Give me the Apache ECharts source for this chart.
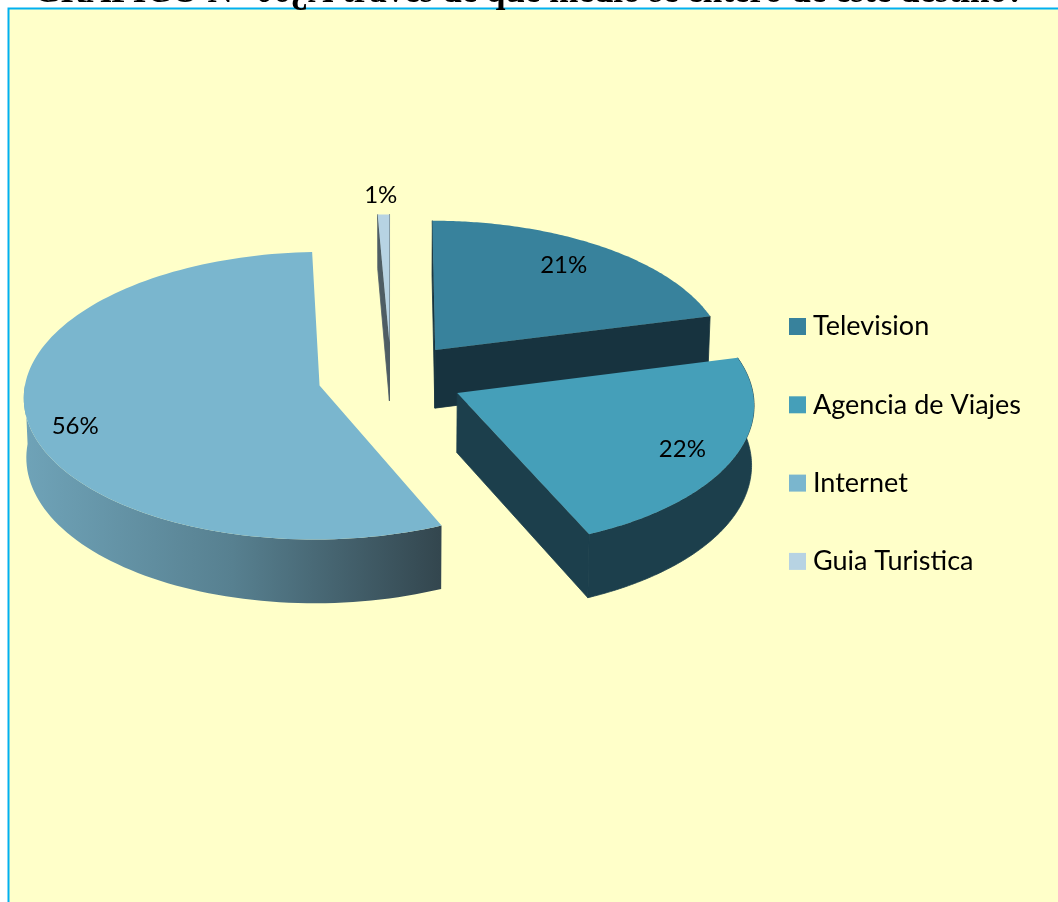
<!DOCTYPE html>
<html><head><meta charset="utf-8">
<style>html,body{margin:0;padding:0;background:#fff;overflow:hidden}#c{width:1058px;height:902px}</style>
<script src="https://cdn.jsdelivr.net/npm/echarts@6/dist/echarts.min.js"></script></head>
<body><div id="c"></div>
<script>
const titleText = 'GRÁFICO N° 06¿A través de qué medio se enteró de este destino?';
const categories = ['Television', 'Agencia de Viajes', 'Internet', 'Guia Turistica'];
const shares = [21, 22.4, 55.9, 0.7];
const percentLabels = ['21%', '22%', '56%', '1%'];

// Styling and projection settings (not data)
const topColors = ['#38829c', '#459fb9', '#7ab6ce', '#b7d3e3'];
const sideColors = ['#17333f', '#1c3f4c', '#34474f', '#4e5d64'];
const drawOrder = [3, 4, 1, 2];
const labelRadius = [0.66, 0.84, 0.83, 1.16];
const labelNudge = [[17, -15], [-6, 2], [-2, 13], [-2, 0]];
const view = {cx: 391, cy: 377.5, a: 293.5, b: 142, persp: 0.07, depth: 59, explode: 0.249, bottomShrink: 0.993};

const total = shares.reduce((s, v) => s + v, 0);
function project(u, v) {
  const s = 1 / (1 - view.persp * v);
  return [view.cx + view.a * u * s, view.cy + view.b * v * s, s];
}
function lower(p) {
  return [view.cx + (p[0] - view.cx) * view.bottomShrink, p[1] + view.depth * p[2]];
}
function sideOf(a, b, p) {
  return (b[0] - a[0]) * (p[1] - a[1]) - (b[1] - a[1]) * (p[0] - a[0]);
}
function poly(points, fill, z2, stroke) {
  const style = {fill: fill};
  if (stroke) { style.stroke = stroke; style.lineWidth = 0.8; }
  return {type: 'polygon', shape: {points: points.map(p => [p[0], p[1]])}, style: style, z2: z2, silent: true};
}
function makeRender(idx) {
  return function () {
    const before = shares.slice(0, idx).reduce((s, v) => s + v, 0);
    const t0 = before / total * 2 * Math.PI;
    const t1 = (before + shares[idx]) / total * 2 * Math.PI;
    const tm = (t0 + t1) / 2;
    const ou = view.explode * Math.sin(tm), ov = -view.explode * Math.cos(tm);
    const rim = (t, r) => project(ou + (r === undefined ? 1 : r) * Math.sin(t), ov - (r === undefined ? 1 : r) * Math.cos(t));
    const apex = project(ou, ov);
    const children = [];
    // radial side walls
    [t0, t1].forEach(t => {
      const q = rim(t), mid = rim(tm), down = lower(apex);
      const a = sideOf(apex, q, mid), b = sideOf(apex, q, down);
      if (a * b < 0) {
        children.push(poly([apex, q, lower(q), down], sideColors[idx], 1, sideColors[idx]));
      }
    });
    // outer curved wall: the front half, plus any rim point that sticks out
    const front = [];
    const steps = 120;
    for (let i = 0; i <= steps; i++) {
      const t = t0 + (t1 - t0) * i / steps;
      if (Math.sin(t - Math.PI / 2) > -0.26 && t < 1.5 * Math.PI + 0.02) front.push(rim(t));
    }
    if (front.length > 1 && idx !== 0) {
      const pts = front.concat(front.slice().reverse().map(lower));
      const gradient = idx === 2;
      const fill = gradient
        ? {type: 'linear', x: 0, y: 0, x2: 1, y2: 0, colorStops: [
            {offset: 0, color: '#6fa3b8'}, {offset: 0.5, color: '#578090'}, {offset: 1, color: '#33464e'}]}
        : sideColors[idx];
      children.push(poly(pts, fill, 2, gradient ? null : sideColors[idx]));
    }
    // top face
    const top = [apex];
    for (let i = 0; i <= steps; i++) top.push(rim(t0 + (t1 - t0) * i / steps));
    children.push(poly(top, topColors[idx], 3));
    // percentage label
    const lp = rim(tm, labelRadius[idx]);
    children.push({type: 'text', z2: 4, silent: true, style: {
      x: lp[0] + labelNudge[idx][0], y: lp[1] + labelNudge[idx][1], text: percentLabels[idx], fill: '#000',
      font: '24px Lato, sans-serif', align: 'center', verticalAlign: 'middle'}});
    return {type: 'group', children: children};
  };
}

const chart = echarts.init(document.getElementById('c'), null, {renderer: 'canvas'});
chart.setOption({
  animation: false,
  backgroundColor: '#ffffff',
  color: topColors,
  title: {text: titleText, left: 'center', top: -25, padding: 0,
    textStyle: {fontFamily: 'Liberation Serif', fontWeight: 'bold', fontSize: 35, color: '#000'}},
  legend: {orient: 'vertical', left: 784, top: 308, itemWidth: 17, itemHeight: 17, itemGap: 51.3,
    selectedMode: false, icon: 'rect', data: categories,
    textStyle: {fontFamily: 'Lato', fontSize: 27, color: '#000', padding: [0, 0, 0, 2]}},
  graphic: [{type: 'rect', z: -1, silent: true, shape: {x: 8.5, y: 8.5, width: 1100, height: 1000},
    style: {fill: '#ffffc9', stroke: '#00b0f0', lineWidth: 2}}],
  series: categories.map((name, i) => ({
    type: 'custom', name: name, coordinateSystem: 'none', z: drawOrder[i] + 1,
    data: [shares[i]], renderItem: makeRender(i), silent: true
  }))
});
</script></body></html>
